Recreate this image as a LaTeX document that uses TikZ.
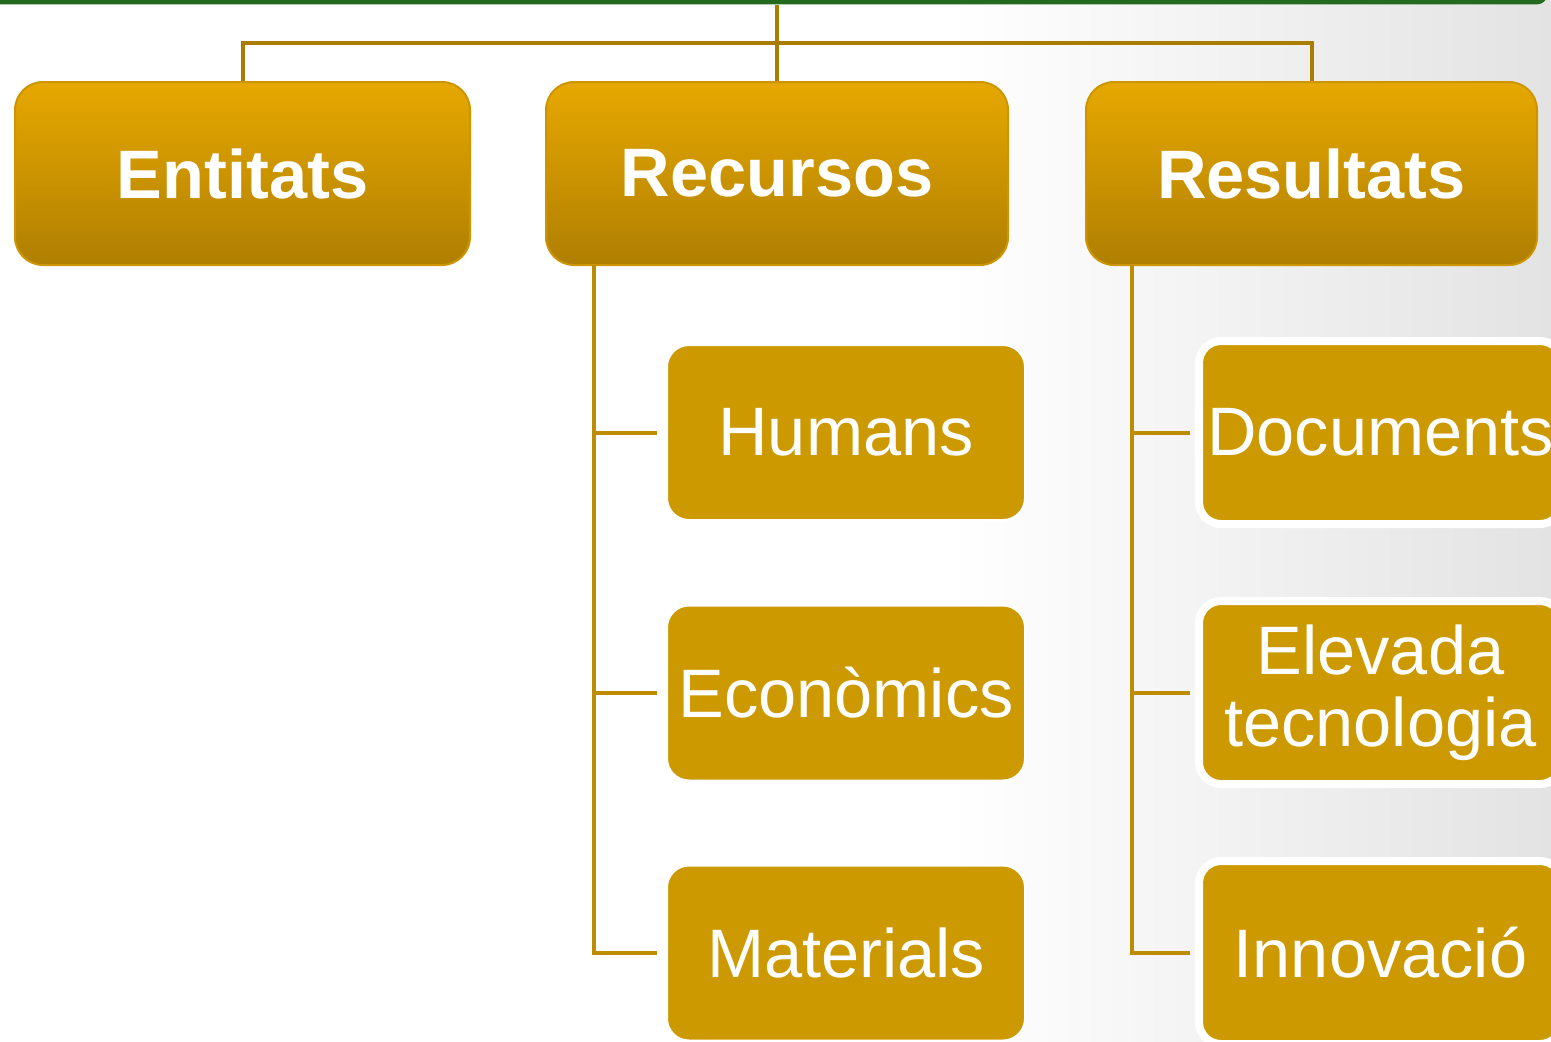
\documentclass[tikz,border=0pt]{standalone}
\usepackage{fontspec}
\setmainfont{Liberation Sans}
\definecolor{barGreen}{RGB}{35,105,30}
\definecolor{goldTop}{RGB}{230,168,0}
\definecolor{goldBottom}{RGB}{176,127,0}
\definecolor{goldEdge}{RGB}{205,150,0}
\definecolor{goldFill}{RGB}{204,153,0}
\definecolor{goldLine}{RGB}{170,125,0}
\definecolor{branchLine}{RGB}{190,140,0}
\tikzset{
  headbox/.style={rounded corners=0.28cm, top color=goldTop, bottom color=goldBottom,
    draw=goldEdge, line width=0.02cm, minimum height=1.83cm, inner sep=0pt,
    text=white, font=\bfseries\fontsize{19.5}{21}\selectfont},
  childbox/.style={rounded corners=0.22cm, fill=goldFill, draw=white, line width=0.02cm,
    minimum width=3.58cm, minimum height=1.75cm, inner sep=0pt, text=white,
    font=\fontsize{19.5}{20.5}\selectfont, align=center},
  outcomebox/.style={childbox, line width=0.08cm, minimum width=3.63cm, minimum height=1.83cm},
  trunk/.style={goldLine, line width=0.04cm},
  branch/.style={branchLine, line width=0.04cm}
}
\begin{document}
\begin{tikzpicture}
  \newcommand{\picwide}{15.51}
  \newcommand{\pichigh}{10.41}
  \useasboundingbox (0,0) rectangle (\picwide,-\pichigh);
  % background
  \fill[white] (0,0) rectangle (\picwide,-\pichigh);
  \shade[left color=white, right color=gray!22] (9.5,0) rectangle (\picwide,-\pichigh);
  \node[fill=barGreen, rounded corners=0.1cm, minimum width=15.7cm, minimum height=0.5cm,
    inner sep=0pt, anchor=south east] (topbar) at (15.48,-0.05) {};

  % first level
  \node[headbox, minimum width=4.55cm] (entitats) at (2.425,-1.735) {Entitats};
  \node[headbox, minimum width=4.62cm] (recursos) at (7.77,-1.735) {Recursos};
  \node[headbox, minimum width=4.51cm] (resultats) at (13.115,-1.735) {Resultats};

  % second level
  \node[childbox] (humans) at (8.46,-4.325) {Humans};
  \node[childbox] (economics) at (8.46,-6.93) {Econòmics};
  \node[childbox] (materials) at (8.46,-9.53) {Materials};
  \node[outcomebox] (documents) at (13.805,-4.325) {Documents};
  \node[outcomebox] (tecnologia) at (13.805,-6.925) {Elevada\\tecnologia};
  \node[outcomebox] (innovacio) at (13.805,-9.525) {Innovació};

  % connectors
  \coordinate (hub) at (7.77,-0.43);
  \draw[trunk] (topbar.south -| hub) -- (recursos.north);
  \draw[trunk] (entitats.north) |- (hub) -| (resultats.north);
  \coordinate (rtrunk) at (5.94,-2.65);
  \draw[branch] (rtrunk) |- ([xshift=-0.09cm]materials.west);
  \draw[branch] (rtrunk |- humans.west) -- ([xshift=-0.09cm]humans.west);
  \draw[branch] (rtrunk |- economics.west) -- ([xshift=-0.09cm]economics.west);
  \coordinate (strunk) at (11.32,-2.65);
  \draw[branch] (strunk) |- ([xshift=-0.05cm]innovacio.west);
  \draw[branch] (strunk |- documents.west) -- ([xshift=-0.05cm]documents.west);
  \draw[branch] (strunk |- tecnologia.west) -- ([xshift=-0.05cm]tecnologia.west);
\end{tikzpicture}
\end{document}
